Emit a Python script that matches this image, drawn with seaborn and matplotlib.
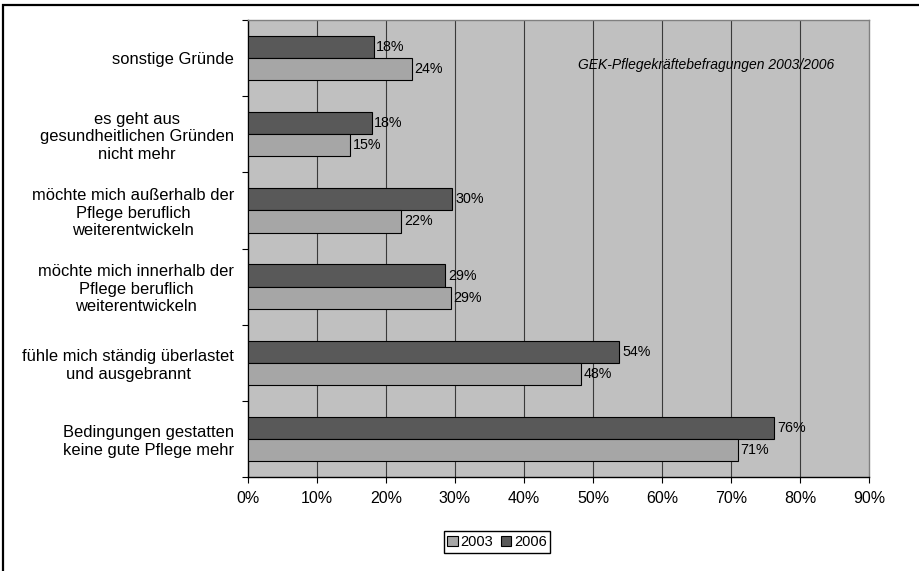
import pandas as pd
import matplotlib
matplotlib.use("Agg")
import matplotlib.pyplot as plt
from matplotlib.patches import Patch, Rectangle
from matplotlib.ticker import PercentFormatter, FixedLocator
import seaborn as sns

categories = [
    "sonstige Gründe",
    "es geht aus\ngesundheitlichen Gründen\nnicht mehr",
    "möchte mich außerhalb der\nPflege beruflich\nweiterentwickeln",
    "möchte mich innerhalb der\nPflege beruflich\nweiterentwickeln",
    "fühle mich ständig überlastet\nund ausgebrannt",
    "Bedingungen gestatten\nkeine gute Pflege mehr",
]
values_2006 = [18.2, 17.9, 29.6, 28.6, 53.8, 76.3]
values_2003 = [23.7, 14.8, 22.2, 29.4, 48.3, 71.0]
years = ["2003", "2006"]
source_note = "GEK-Pflegekräftebefragungen 2003/2006"

df = pd.DataFrame({
    "grund": categories * 2,
    "anteil": values_2006 + values_2003,
    "jahr": ["2006"] * len(categories) + ["2003"] * len(categories),
})

colors = {"2003": "#A6A6A6", "2006": "#595959"}

sns.set_theme(style="white")
plt.rcParams["font.family"] = ["Liberation Sans", "DejaVu Sans"]
plt.rcParams["text.color"] = "black"
plt.rcParams["xtick.labelcolor"] = "black"
plt.rcParams["ytick.labelcolor"] = "black"

fig = plt.figure(figsize=(9.2, 5.71), dpi=100)
ax = fig.add_axes([248 / 920, 1 - 477 / 571, 621 / 920, 457 / 571])
ax.set_facecolor("#C0C0C0")

sns.barplot(data=df, y="grund", x="anteil", hue="jahr", hue_order=["2006", "2003"],
            palette=colors, orient="h", width=0.58, edgecolor="black", linewidth=0.8,
            legend=False, ax=ax, zorder=3)

for cont in ax.containers:
    vals = [b.get_width() for b in cont]
    ax.bar_label(cont, labels=[f"{v:.0f}%" for v in vals], padding=2, fontsize=10.3,
                 color="black", zorder=4)

ax.set_xlim(0, 90)
ax.set_ylim(len(categories) - 0.5, -0.5)
ax.xaxis.set_major_locator(FixedLocator(range(0, 91, 10)))
ax.xaxis.set_major_formatter(PercentFormatter(xmax=100, decimals=0))
for x in range(10, 90, 10):
    ax.axvline(x, color="#3a3a3a", lw=0.8, zorder=1)

ax.set_xlabel("")
ax.set_ylabel("")
ax.tick_params(axis="x", which="major", direction="out", length=4, width=0.8,
               color="black", labelsize=11.5, pad=6, bottom=True)
ax.tick_params(axis="y", which="major", length=0, labelsize=11.9, pad=10)
ax.yaxis.set_minor_locator(FixedLocator([i - 0.5 for i in range(len(categories) + 1)]))
ax.tick_params(axis="y", which="minor", direction="out", length=4, width=0.8,
               color="black", left=True)
for lab in ax.get_yticklabels():
    lab.set_multialignment("center")

for side in ["left", "bottom"]:
    ax.spines[side].set_color("black")
    ax.spines[side].set_linewidth(1.0)
for side in ["top", "right"]:
    ax.spines[side].set_color("#808080")
    ax.spines[side].set_linewidth(1.0)

ax.text(0.7375, 0.9015, source_note, transform=ax.transAxes, ha="center", va="center",
        fontsize=10, style="italic", zorder=5)

handles = [Patch(facecolor=colors[y], edgecolor="black", linewidth=0.8) for y in years]
fig.legend(handles, years, loc="center", bbox_to_anchor=(497 / 920, 1 - 542 / 571), ncol=2,
           fontsize=10.5, frameon=True, fancybox=False, edgecolor="black", framealpha=1,
           handlelength=0.7, handleheight=0.7, handletextpad=0.2, columnspacing=0.5,
           borderpad=0.25, borderaxespad=0)

fig.patches.append(Rectangle((3.5 / 920, -0.1), 1.2, 1.1 - 5 / 571, transform=fig.transFigure,
                             fill=False, edgecolor="black", linewidth=1.6, clip_on=False))

fig.savefig("out.png", dpi=100)
